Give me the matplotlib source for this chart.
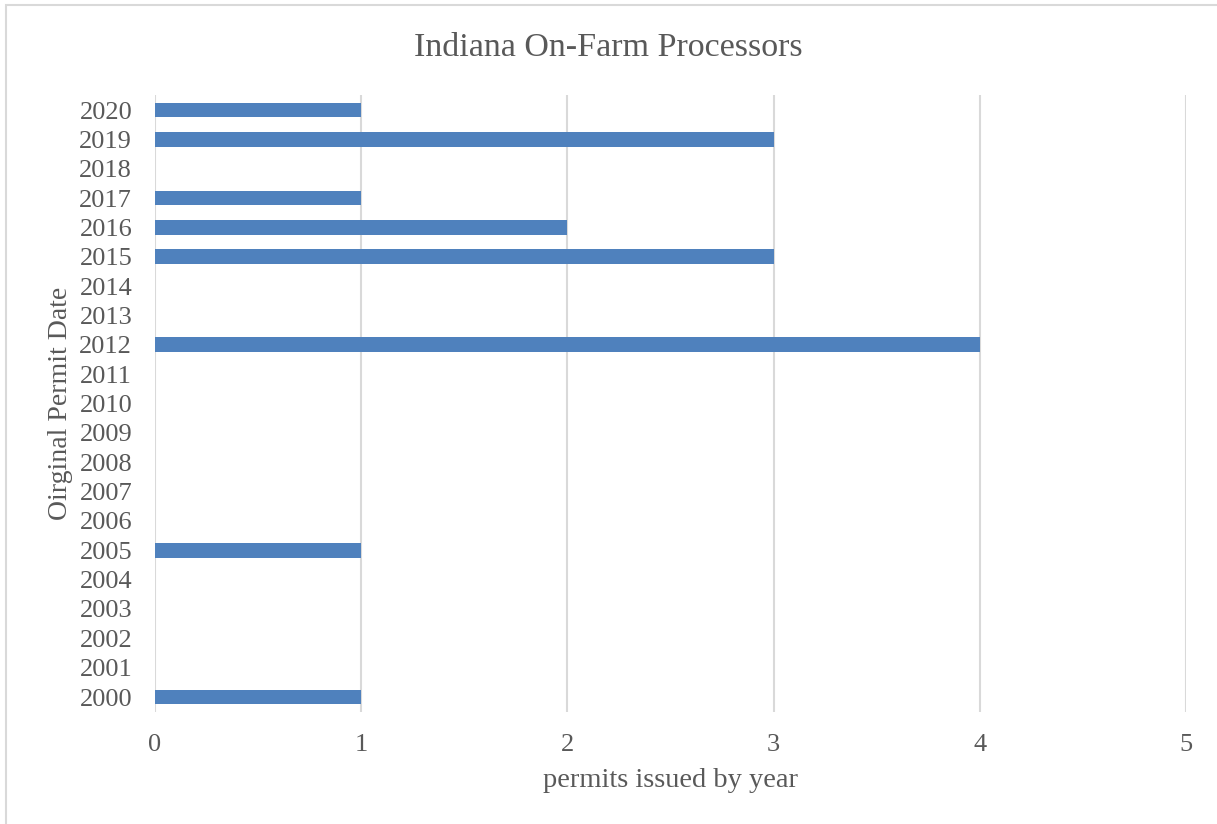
import matplotlib.pyplot as plt
from matplotlib.patches import Rectangle

# Data
years = [str(y) for y in range(2000, 2021)]
permits = [1, 0, 0, 0, 0, 1, 0, 0, 0, 0, 0, 0, 4, 0, 0, 3, 2, 1, 0, 3, 1]
x_ticks = [0, 1, 2, 3, 4, 5]

text_color = "#595959"
grid_color = "#d9d9d9"
bar_color = "#4f81bd"

plt.rcParams['font.family'] = ['Liberation Serif', 'DejaVu Serif']

fig = plt.figure(figsize=(12.17, 8.24), dpi=100)
ax = fig.add_axes([0.1274, 0.1363, 0.8471, 0.748])

ax.barh(years, permits, height=0.5, color=bar_color, zorder=3)

ax.set_xlim(0, 5)
ax.set_ylim(-0.5, len(years) - 0.5)
ax.set_xticks(x_ticks)
ax.set_xticklabels([str(t) for t in x_ticks])
ax.grid(axis='x', color=grid_color, linewidth=1.5, zorder=0)
ax.set_axisbelow(True)

for s in ax.spines.values():
    s.set_visible(False)

ax.tick_params(axis='both', length=0, labelsize=19, colors=text_color)
ax.tick_params(axis='y', pad=16.5)
ax.tick_params(axis='x', pad=16)

# title centred on the whole chart area
fig.text(0.5, 1 - 48 / 824, "Indiana On-Farm Processors", fontsize=24.5,
         color=text_color, ha='center', va='center')

ax.set_xlabel("permits issued by year", fontsize=20.5, color=text_color, va='center')
ax.xaxis.set_label_coords(0.5, -0.111)
ax.set_ylabel("Oirginal Permit Date", fontsize=20, color=text_color, va='center')
ax.yaxis.set_label_coords(-0.092, 0.5)

# chart area border
fig.patches.append(Rectangle((6 / 1217, -0.1), 1.2, 1.1 - 5 / 824,
                             transform=fig.transFigure, fill=False,
                             edgecolor=grid_color, linewidth=1.5))

fig.savefig("out.png", dpi=100)
